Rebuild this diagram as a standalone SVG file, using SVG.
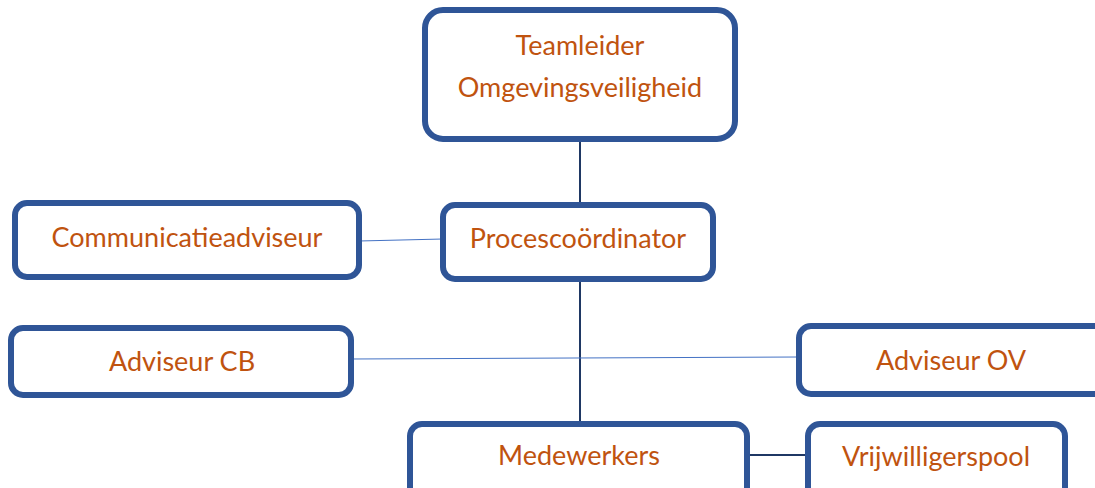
<svg xmlns="http://www.w3.org/2000/svg" width="1095" height="488" viewBox="0 0 1095 488">
<style>
.box{fill:#fff;stroke:#2F5597;stroke-width:6}
.t{font-family:Lato,"Open Sans",sans-serif;font-size:27px;fill:#C0530F;text-anchor:middle}
.dark{stroke:#1F3864;stroke-width:2;fill:none}
.thin{stroke:#4472C4;stroke-width:1;fill:none}
</style>
<rect width="1095" height="488" fill="#fff"/>
<g id="connectors">
<line class="dark" x1="580" y1="139" x2="580" y2="205"/>
<line class="dark" x1="580" y1="279" x2="580" y2="424"/>
<line class="thin" x1="359" y1="241" x2="443" y2="239"/>
<line class="thin" x1="351" y1="359" x2="799" y2="357"/>
<line class="dark" x1="747" y1="455" x2="808" y2="455"/>
</g>
<g id="teamleider">
<rect class="box" x="425" y="10" width="310" height="129" rx="18"/>
<text class="t" x="580" y="55">Teamleider</text>
<text class="t" x="580" y="97">Omgevingsveiligheid</text>
</g>
<g id="communicatieadviseur">
<rect class="box" x="15" y="203" width="344" height="74" rx="12"/>
<text class="t" x="187" y="247">Communicatieadviseur</text>
</g>
<g id="procescoordinator">
<rect class="box" x="443" y="205" width="270" height="74" rx="12"/>
<text class="t" x="578" y="248">Procescoördinator</text>
</g>
<g id="adviseur-cb">
<rect class="box" x="11" y="328" width="340" height="67" rx="12"/>
<text class="t" x="182" y="371">Adviseur CB</text>
</g>
<g id="adviseur-ov">
<rect class="box" x="799" y="326" width="310" height="68" rx="12"/>
<text class="t" x="951" y="370">Adviseur OV</text>
</g>
<g id="medewerkers">
<rect class="box" x="410" y="424" width="337" height="80" rx="12"/>
<text class="t" x="579" y="465">Medewerkers</text>
</g>
<g id="vrijwilligerspool">
<rect class="box" x="808" y="424" width="257" height="80" rx="12"/>
<text class="t" x="936" y="466">Vrijwilligerspool</text>
</g>
</svg>
